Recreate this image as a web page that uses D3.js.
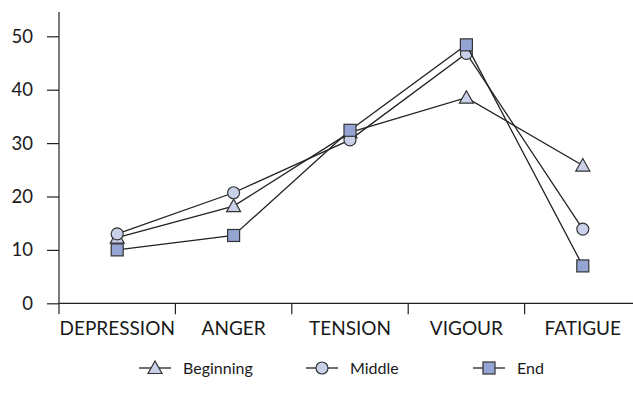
<!DOCTYPE html>
<html><head><meta charset="utf-8">
<script src="https://cdn.jsdelivr.net/npm/d3@7"></script>
<style>body{margin:0;background:#fff}svg{display:block}text{font-family:Lato,sans-serif;fill:#1a1a1a}</style>
</head><body>
<script>
const categories = ["DEPRESSION","ANGER","TENSION","VIGOUR","FATIGUE"];
const beginning = [12.3, 18.2, 32.0, 38.5, 25.8];
const middle = [13.0, 20.7, 30.6, 46.8, 13.9];
const end = [10.0, 12.7, 32.4, 48.4, 7.0];
const yTicks = [0,10,20,30,40,50];
const seriesNames = ["Beginning","Middle","End"];

const W=633,H=401;
const svg=d3.select("body").append("svg").attr("width",W).attr("height",H);
const x=d3.scaleBand().domain(categories).range([59,641]).padding(0);
const y=d3.scaleLinear().domain([0,50]).range([303.3,36.3]);
const ink="#222";

// y axis
const ya=svg.append("g").attr("transform","translate(59,0)")
  .call(d3.axisLeft(y).tickValues(yTicks).tickSize(12).tickPadding(14).tickSizeOuter(0));
ya.select(".domain").remove();
ya.selectAll("line").attr("stroke",ink).attr("stroke-width",1.2);
ya.selectAll("text").style("font-size","18.5px").style("font-family","Lato,sans-serif").attr("fill","#1a1a1a");
svg.append("line").attr("x1",59).attr("x2",59).attr("y1",12).attr("y2",314).attr("stroke",ink).attr("stroke-width",1.2);

// x axis
svg.append("line").attr("x1",59).attr("x2",641).attr("y1",y(0)).attr("y2",y(0)).attr("stroke",ink).attr("stroke-width",1.2);
categories.slice(1).forEach(c=>{
  svg.append("line").attr("x1",x(c)).attr("x2",x(c)).attr("y1",y(0)).attr("y2",y(0)+11).attr("stroke",ink).attr("stroke-width",1.2);
});
const xa=svg.append("g").attr("transform",`translate(0,${y(0)})`)
  .call(d3.axisBottom(x).tickSize(0).tickPadding(18));
xa.select(".domain").remove();
xa.selectAll("text").style("font-size","19px").style("font-family","Lato,sans-serif").attr("fill","#1a1a1a");

const lightFill="#c9d1ea", sqFill="#95a5d3";
const data=[beginning,middle,end];
const shapes=["tri","circ","sq"];
function marker(g,shape,cx,cy){
  if(shape==="tri"){
    g.append("path").attr("d",`M${cx},${cy-7}L${cx+7},${cy+5.5}L${cx-7},${cy+5.5}Z`)
      .attr("fill",lightFill).attr("stroke","#333").attr("stroke-width",1.2);
  } else if(shape==="circ"){
    g.append("circle").attr("cx",cx).attr("cy",cy).attr("r",6).attr("fill",lightFill).attr("stroke","#333").attr("stroke-width",1.2);
  } else {
    g.append("rect").attr("x",cx-6).attr("y",cy-6).attr("width",12).attr("height",12).attr("fill",sqFill).attr("stroke","#333").attr("stroke-width",1.2);
  }
}
const line=d3.line().x((d,i)=>x(categories[i])+x.bandwidth()/2).y(d=>y(d));
data.forEach((vals,si)=>{
  const g=svg.append("g");
  g.append("path").datum(vals).attr("d",line).attr("fill","none").attr("stroke",ink).attr("stroke-width",1.3);
  vals.forEach((v,i)=>marker(g,shapes[si],x(categories[i])+x.bandwidth()/2,y(v)));
});

// legend
const legX=[155,322,489];
seriesNames.forEach((n,i)=>{
  const g=svg.append("g");
  g.append("line").attr("x1",legX[i]-16).attr("x2",legX[i]+16).attr("y1",368).attr("y2",368).attr("stroke",ink).attr("stroke-width",1.3);
  marker(g,shapes[i],legX[i],368);
  g.append("text").attr("x",legX[i]+28).attr("y",374).text(n).style("font-size","16px");
});
</script>
</body></html>
